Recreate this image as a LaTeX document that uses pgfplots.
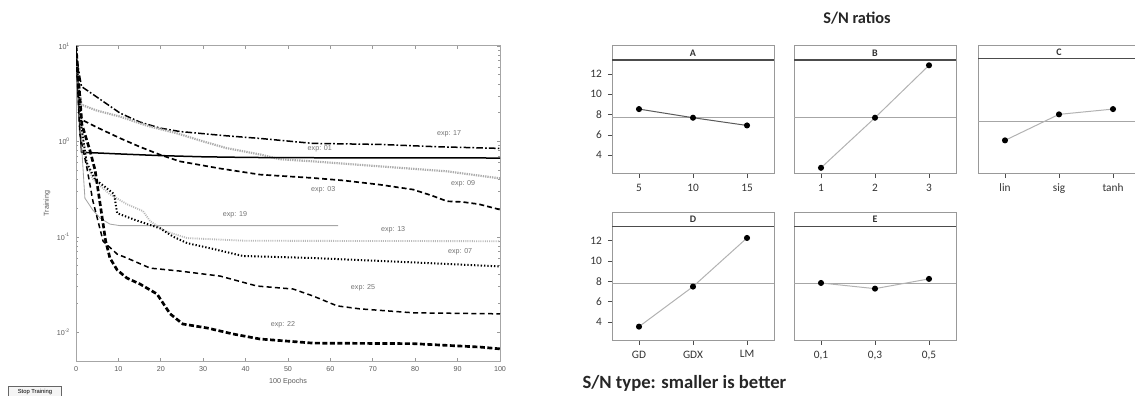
\documentclass[border=0pt]{standalone}
\usepackage{fontspec}
\setmainfont{Liberation Sans}
\newfontfamily\cali{Carlito}
\usepackage{pgfplots}
\pgfplotsset{compat=1.18}
\tikzset{
  lab/.style={font=\fontsize{4.3}{5}\selectfont, text=black!55},
  conn/.style={gray!60, line width=0.6pt, mark=*, mark size=1.5pt, mark options={black, solid, fill=black}},
  meanl/.style={gray!70, line width=0.6pt},
  headl/.style={black!70, line width=0.8pt},
}
\pgfplotsset{
  panel/.style={
    scale only axis, width=97.2pt, height=76.8pt,
    xmin=-0.5, xmax=2.5, ymin=2.16, ymax=14.76,
    xtick={0,1,2}, ytick=\empty,
    axis line style={gray!80, line width=0.6pt},
    tick style={black!70, line width=0.5pt},
    tick align=outside, major tick length=2.5pt,
    xtick pos=bottom, ytick pos=left,
    ticklabel style={font=\cali\fontsize{6.8}{7}\selectfont, text=black!80},
    /pgf/number format/assume math mode=true,
  },
}
\begin{document}
\begin{tikzpicture}
\path[use as bounding box] (0pt,0pt) rectangle (681pt,-237.6pt);
% ---------------- left chart ----------------
\begin{axis}[
  at={(45.6pt,-216.6pt)}, anchor=south west,
  scale only axis, width=254.4pt, height=189pt,
  xmin=0, xmax=100, ymode=log, ymin=0.005, ymax=10,
  xtick={0,10,...,100},
  ytick={0.01,0.1,1,10},
  yticklabels={10\textsuperscript{-2},10\textsuperscript{-1},10\textsuperscript{0},10\textsuperscript{1}},
  axis line style={gray!70, line width=0.6pt},
  tick style={gray!80, line width=0.4pt},
  major tick length=2pt, minor tick length=1.2pt,
  ticklabel style={font=\fontsize{4.3}{5}\selectfont, text=black!65},
  /pgf/number format/assume math mode=true,
  xlabel={100 Epochs}, ylabel={Training},
  label style={font=\fontsize{4.3}{5}\selectfont, text=black!65},
  xlabel style={yshift=3pt}, ylabel style={yshift=-3pt},
  clip=true,
]
% exp 17 dash-dot
\addplot[black, line width=0.9pt, dash pattern=on 4pt off 1.3pt on 1pt off 1.3pt] coordinates {
(0,9) (0.5,6) (1.3,3.76) (5,2.9) (10.4,1.98) (15,1.6) (19.8,1.38) (24.5,1.27) (35,1.15) (43.4,1.075) (55.9,0.953) (71.7,0.93) (85,0.88) (100,0.845)};
% exp 09 gray dotted thick
\addplot[gray!65, line width=1.3pt, dash pattern=on 0.8pt off 0.6pt] coordinates {
(0,9) (0.6,4) (1.3,2.42) (5,2.1) (10.4,1.82) (17,1.45) (23.7,1.22) (30,1.0) (35.5,0.851) (43.4,0.73) (48.1,0.65) (55.9,0.618) (71.7,0.548) (87.5,0.486) (100,0.41)};
% exp 01 solid
\addplot[black, line width=0.9pt] coordinates {
(0,9) (0.7,2) (1.3,0.77) (10,0.74) (20,0.71) (30,0.69) (40,0.68) (50,0.675) (100,0.67)};
% exp 03 dashed
\addplot[black, line width=1pt, dash pattern=on 3pt off 1.8pt] coordinates {
(0,9) (0.7,3) (1.3,1.69) (5,1.4) (10.4,1.08) (15,0.88) (19.8,0.726) (24.5,0.618) (34,0.52) (43.4,0.449) (55.9,0.414) (63,0.39) (71.7,0.352) (79.5,0.313) (84,0.27) (87.5,0.236) (91.2,0.232) (95,0.22) (100,0.193)};
% exp 19 gray solid thin
\addplot[gray!70, line width=0.5pt] coordinates {
(0,9) (1,1.5) (2.1,0.254) (4,0.19) (5.7,0.157) (8,0.136) (10.4,0.131) (61.8,0.131)};
% exp 13 light gray dotted
\addplot[gray!55, line width=1.1pt, dash pattern=on 0.6pt off 0.7pt] coordinates {
(0,9) (1.2,1.5) (2.5,0.6) (4,0.40) (8,0.279) (12,0.22) (15.8,0.186) (17.5,0.146) (21,0.115) (26.2,0.097) (40,0.091) (100,0.090)};
% exp 07 black dotted
\addplot[black, line width=1.2pt, dash pattern=on 0.8pt off 1.2pt] coordinates {
(0,9) (1.2,1.5) (2.5,0.6) (4.5,0.40) (7,0.33) (9,0.28) (9.7,0.177) (14,0.15) (19.8,0.123) (23,0.10) (26.2,0.086) (31.6,0.076) (39.4,0.063) (55.9,0.060) (79.5,0.054) (100,0.049)};
% exp 25 dashed
\addplot[black, line width=0.9pt, dash pattern=on 3pt off 2pt] coordinates {
(0,9) (0.9,1.2) (2.6,0.52) (4,0.236) (6.4,0.09) (9.7,0.066) (12,0.06) (17.5,0.047) (24.5,0.0438) (34,0.0388) (42.7,0.0305) (51.2,0.0284) (55.9,0.024) (61.6,0.0189) (66.9,0.0176) (79.5,0.016) (100,0.0156)};
% exp 22 thick dashed
\addplot[black, line width=1.6pt, dash pattern=on 3pt off 1.5pt] coordinates {
(0,10) (1.4,1.5) (3.3,0.8) (4.5,0.5) (5.7,0.22) (7,0.09) (8,0.06) (9.7,0.045) (12,0.037) (15.1,0.032) (19.1,0.0252) (22.2,0.0156) (25.2,0.0122) (30.9,0.0111) (37,0.0096) (43.4,0.0085) (55.9,0.0077) (79.5,0.0076) (95.3,0.0070) (100,0.0067)};
\node[lab] at (axis cs:88,1.21) {exp: 17};
\node[lab] at (axis cs:57.5,0.845) {exp: 01};
\node[lab] at (axis cs:91.3,0.364) {exp: 09};
\node[lab] at (axis cs:58.3,0.315) {exp: 03};
\node[lab] at (axis cs:37.5,0.169) {exp: 19};
\node[lab] at (axis cs:74.8,0.120) {exp: 13};
\node[lab] at (axis cs:90.6,0.069) {exp: 07};
\node[lab] at (axis cs:67.7,0.0295) {exp: 25};
\node[lab] at (axis cs:48.8,0.0119) {exp: 22};
\end{axis}
\node[draw=black!60, fill=gray!8, inner sep=0.5pt, font=\fontsize{3.5}{4}\selectfont, minimum width=32pt, minimum height=7pt, anchor=north west] at (4.8pt,-231.6pt) {Stop Training};
% ---------------- right panels ----------------
\node[font=\cali\bfseries\fontsize{9.8}{11}\selectfont, text=black!85] at (514.2pt,-10.8pt) {S/N ratios};
\node[anchor=west, font=\cali\bfseries\fontsize{11.2}{13}\selectfont, text=black!85] at (346pt,-229.8pt) {S/N type: smaller is better};
% A
\begin{axis}[panel, at={(367.2pt,-104.4pt)}, anchor=south west, ytick={4,6,8,10,12}, xticklabels={5,10,15}]
\addplot[meanl] coordinates {(-0.5,7.77) (2.5,7.77)};
\addplot[headl] coordinates {(-0.5,13.38) (2.5,13.38)};
\addplot[conn, black!65] coordinates {(0,8.55) (1,7.70) (2,6.94)};
\node[font=\cali\bfseries\fontsize{6}{7}\selectfont, text=black!80] at (axis cs:1,14.07) {A};
\end{axis}
% B
\begin{axis}[panel, at={(476.4pt,-104.4pt)}, anchor=south west, xticklabels={1,2,3}]
\addplot[meanl] coordinates {(-0.5,7.77) (2.5,7.77)};
\addplot[headl] coordinates {(-0.5,13.38) (2.5,13.38)};
\addplot[conn] coordinates {(0,2.77) (1,7.70) (2,12.86)};
\node[font=\cali\bfseries\fontsize{6}{7}\selectfont, text=black!80] at (axis cs:1,14.07) {B};
\end{axis}
% C
\begin{axis}[panel, at={(586.8pt,-104.4pt)}, anchor=south west, xticklabels={lin,sig,tanh}]
\addplot[meanl] coordinates {(-0.5,7.34) (2.5,7.34)};
\addplot[headl] coordinates {(-0.5,13.55) (2.5,13.55)};
\addplot[conn] coordinates {(0,5.47) (1,8.03) (2,8.55)};
\node[font=\cali\bfseries\fontsize{6}{7}\selectfont, text=black!80] at (axis cs:1,14.15) {C};
\end{axis}
% D
\begin{axis}[panel, at={(367.2pt,-204.4pt)}, anchor=south west, ytick={4,6,8,10,12}, xticklabels={GD,GDX,LM}]
\addplot[meanl] coordinates {(-0.5,7.80) (2.5,7.80)};
\addplot[headl] coordinates {(-0.5,13.38) (2.5,13.38)};
\addplot[conn] coordinates {(0,3.54) (1,7.48) (2,12.27)};
\node[font=\cali\bfseries\fontsize{6}{7}\selectfont, text=black!80] at (axis cs:1,14.07) {D};
\end{axis}
% E
\begin{axis}[panel, at={(476.4pt,-204.4pt)}, anchor=south west, xticklabels={{0,1},{0,3},{0,5}}]
\addplot[meanl] coordinates {(-0.5,7.80) (2.5,7.80)};
\addplot[headl] coordinates {(-0.5,13.38) (2.5,13.38)};
\addplot[conn] coordinates {(0,7.84) (1,7.28) (2,8.24)};
\node[font=\cali\bfseries\fontsize{6}{7}\selectfont, text=black!80] at (axis cs:1,14.07) {E};
\end{axis}
\end{tikzpicture}
\end{document}
